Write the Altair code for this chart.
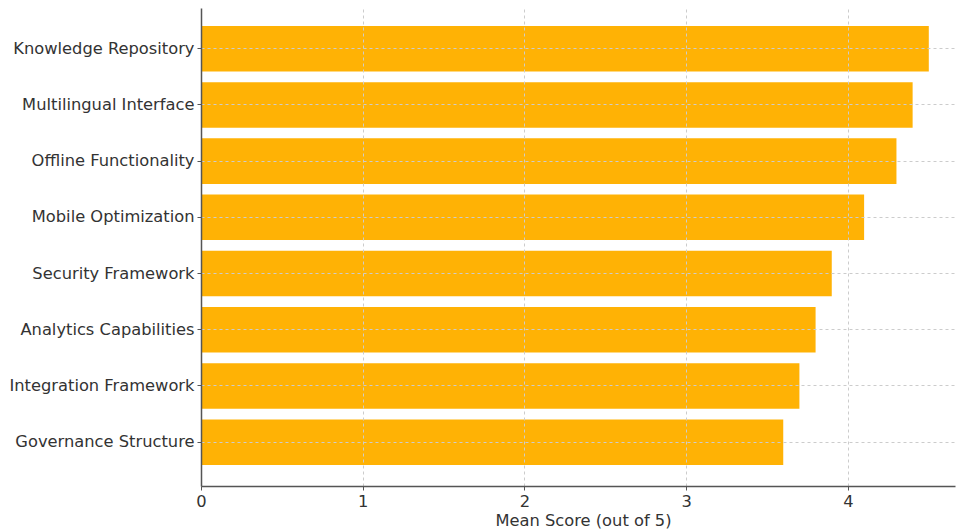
import altair as alt
import pandas as pd

features = [
    "Knowledge Repository",
    "Multilingual Interface",
    "Offline Functionality",
    "Mobile Optimization",
    "Security Framework",
    "Analytics Capabilities",
    "Integration Framework",
    "Governance Structure",
]
mean_scores = [4.5, 4.4, 4.3, 4.1, 3.9, 3.8, 3.7, 3.6]
x_ticks = [0, 1, 2, 3, 4]

df = pd.DataFrame({"feature": features, "score": mean_scores})

FONT = "DejaVu Sans"
TEXT = "#333333"
SIZE = 16.3

bars = (
    alt.Chart(df)
    .mark_bar(color="#FFB000", opacity=0.98)
    .encode(
        x=alt.X(
            "score:Q",
            scale=alt.Scale(domain=[0, 4.662], nice=False, zero=True),
            axis=alt.Axis(
                values=x_ticks,
                format="d",
                title="Mean Score (out of 5)",
                titleFont=FONT,
                titleFontSize=SIZE,
                titleFontWeight="normal",
                titleColor=TEXT,
                titlePadding=3,
                titleX=382,
                titleAlign="center",
                labelFont=FONT,
                labelFontSize=SIZE,
                labelColor=TEXT,
                labelPadding=3,
                labelFlush=False,
                tickSize=4,
                tickColor="#555555",
                domainColor="#555555",
                domainWidth=1.5,
                grid=True,
                gridColor="#cccccc",
                gridDash=[3, 3],
                gridWidth=1,
                zindex=1,
            ),
        ),
        y=alt.Y(
            "feature:N",
            sort=features,
            scale=alt.Scale(paddingInner=0.19, paddingOuter=0.347, align=0.46),
            axis=alt.Axis(
                title=None,
                labelFont=FONT,
                labelFontSize=SIZE,
                labelColor=TEXT,
                labelPadding=3,
                labelLimit=400,
                tickSize=4,
                tickColor="#555555",
                domainColor="#555555",
                domainWidth=1.5,
                grid=True,
                gridColor="#cccccc",
                gridDash=[3, 3],
                gridWidth=1,
                zindex=1,
            ),
        ),
    )
)

chart = (
    bars.properties(
        width=754,
        height=478,
        background="white",
        autosize=alt.AutoSizeParams(type="none"),
        padding={"left": 201, "top": 8, "right": 1, "bottom": 46},
    )
    .configure_view(stroke=None)
)

chart.save("out.html", embed_options={"renderer": "svg", "actions": False})
